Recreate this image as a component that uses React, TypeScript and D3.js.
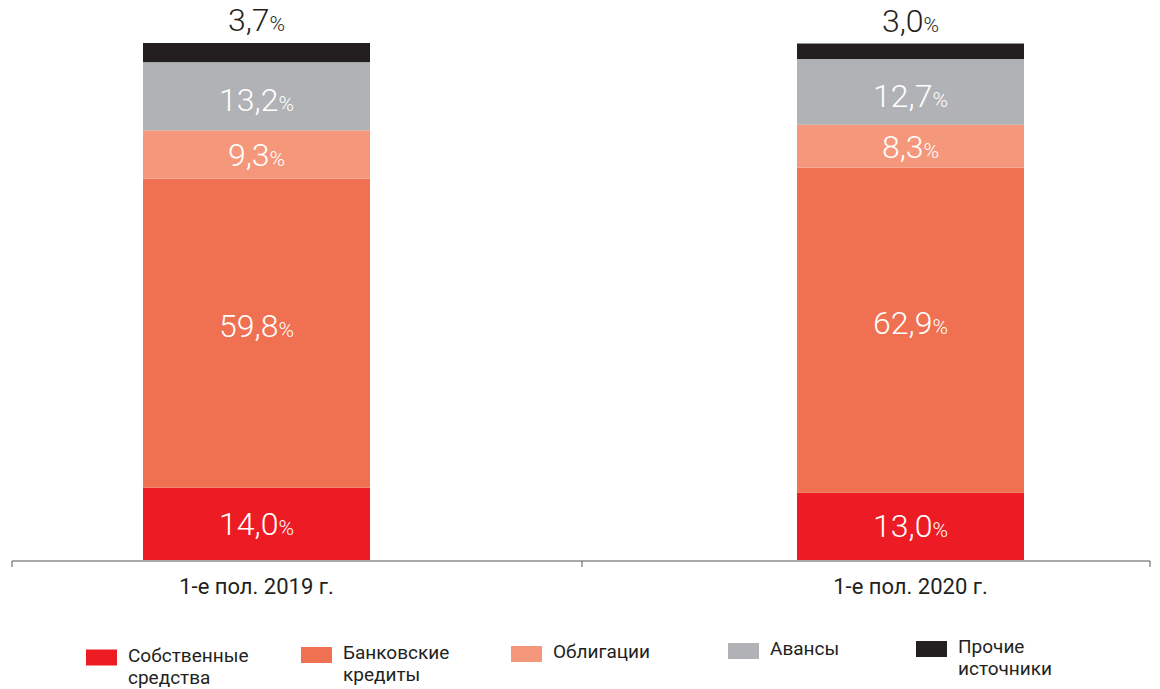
import * as d3 from "d3";
import React, { useEffect, useRef } from "react";

const periods = ["1-е пол. 2019 г.", "1-е пол. 2020 г."];
const seriesNames = ["Собственные средства", "Банковские кредиты", "Облигации", "Авансы", "Прочие источники"];
const legendLines = [["Собственные", "средства"], ["Банковские", "кредиты"], ["Облигации"], ["Авансы"], ["Прочие", "источники"]];
const own = [14.0, 13.0];
const bank = [59.8, 62.9];
const bonds = [9.3, 8.3];
const advances = [13.2, 12.7];
const other = [3.7, 3.0];
const colors = ["#ED1C24", "#F07052", "#F5977A", "#B1B2B5", "#231F20"];

const fmt = (v: number) => v.toFixed(1).replace(".", ",");

const App: React.FC = () => {
  const svgRef = useRef<SVGSVGElement | null>(null);

  useEffect(() => {
    const width = 1160;
    const height = 689;
    const svg = d3.select(svgRef.current);
    svg.selectAll("*").remove();
    svg.attr("width", width).attr("height", height);

    const rows = periods.map((p, i) => ({
      period: p,
      s0: own[i],
      s1: bank[i],
      s2: bonds[i],
      s3: advances[i],
      s4: other[i],
    }));
    const keys = ["s0", "s1", "s2", "s3", "s4"];
    const stacked = d3.stack<any>().keys(keys)(rows);

    const x = d3.scalePoint<string>().domain(periods).range([256.5, 910.5]);
    const barW = 227;
    const y = d3.scaleLinear().domain([0, 100]).range([560, 43]);

    const font = "Roboto, 'Noto Sans', sans-serif";
    // small vertical nudges of the in-bar labels, as in the original layout
    const labelShift = [0, -7, 1, 4, 0];

    // bars
    stacked.forEach((layer, li) => {
      const g = svg.append("g");
      g.selectAll("rect")
        .data(layer)
        .enter()
        .append("rect")
        .attr("x", (d: any) => x(d.data.period)! - barW / 2)
        .attr("width", barW)
        .attr("y", (d: any) => y(d[1]))
        .attr("height", (d: any) => y(d[0]) - y(d[1]))
        .attr("fill", colors[li]);

      // value labels
      const t = g
        .selectAll("text")
        .data(layer)
        .enter()
        .append("text")
        .attr("x", (d: any) => x(d.data.period)!)
        .attr("y", (d: any) =>
          li === 4 ? y(d[1]) - 12 : (y(d[0]) + y(d[1])) / 2 + 11 + labelShift[li]
        )
        .attr("text-anchor", "middle")
        .attr("font-family", font)
        .attr("font-weight", 300)
        .attr("fill", li === 4 ? "#231F20" : "#FFFFFF");
      t.append("tspan")
        .attr("font-size", "32px")
        .text((d: any) => fmt(d[1] - d[0]));
      t.append("tspan")
        .attr("font-size", "21px")
        .text("%");
    });

    // axis
    const axis = svg.append("g").attr("stroke", "#555");
    axis.append("line").attr("x1", 12).attr("x2", 1150).attr("y1", 561).attr("y2", 561);
    [12, 582, 1150].forEach((tx) => {
      axis.append("line").attr("x1", tx).attr("x2", tx).attr("y1", 561).attr("y2", 567);
    });

    svg
      .append("g")
      .selectAll("text")
      .data(periods)
      .enter()
      .append("text")
      .attr("x", (d) => x(d)!)
      .attr("y", 594)
      .attr("text-anchor", "middle")
      .attr("font-family", font)
      .attr("font-size", "22px")
      .attr("fill", "#231F20")
      .text((d) => d);

    // legend
    const legendX = [86, 301, 511, 728, 916];
    const legendY = [647.5, 645, 644, 641, 639];
    const legend = svg.append("g");
    seriesNames.forEach((name, i) => {
      const item = legend.append("g").attr("transform", `translate(${legendX[i]},${legendY[i]})`);
      item.append("rect").attr("y", 2).attr("width", 31).attr("height", 16).attr("fill", colors[i]);
      legendLines[i].forEach((line, li) => {
        item
          .append("text")
          .attr("x", 42)
          .attr("y", 14 + li * 22.4)
          .attr("font-family", font)
          .attr("font-size", "19px")
          .attr("fill", "#231F20")
          .text(line);
      });
    });
  }, []);

  return (
    <div style={{ position: "absolute", left: 0, top: 0 }}>
      <svg ref={svgRef} style={{ display: "block" }}></svg>
    </div>
  );
};

export default App;
